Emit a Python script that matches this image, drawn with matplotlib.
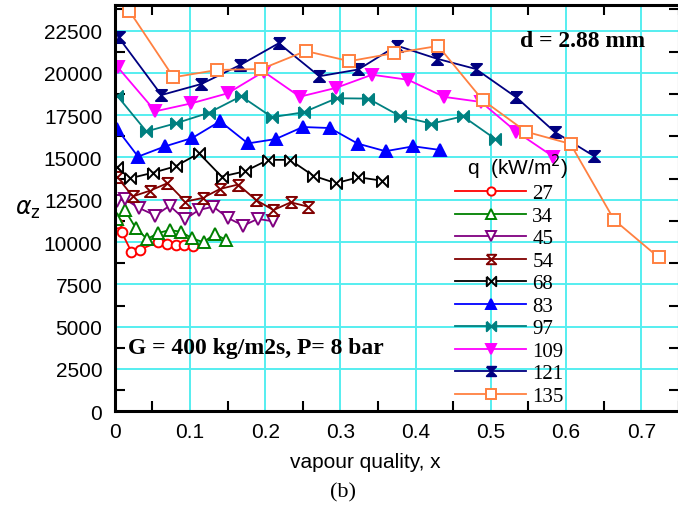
import matplotlib
matplotlib.use("Agg")
import matplotlib.pyplot as plt
import numpy as np
from matplotlib.ticker import MultipleLocator, NullFormatter

# heat flux q (kW/m2) -> (vapour quality, alpha_z)
x27 = [0.003, 0.009, 0.022, 0.033, 0.057, 0.069, 0.081, 0.092, 0.104]
y27 = [11130, 10600, 9430, 9550, 9990, 9890, 9830, 9830, 9790]

x34 = [0.003, 0.013, 0.028, 0.043, 0.058, 0.073, 0.088, 0.103, 0.118, 0.133, 0.148]
y34 = [11370, 11920, 10820, 10180, 10540, 10710, 10610, 10220, 9990, 10480, 10120]

x45 = [0.003, 0.014, 0.032, 0.054, 0.073, 0.093, 0.112, 0.131, 0.151, 0.171, 0.190, 0.210]
y45 = [12450, 12520, 12020, 11570, 12150, 11340, 11900, 12090, 11410, 10970, 11370, 11230]

x54 = [0.003, 0.024, 0.047, 0.070, 0.094, 0.117, 0.140, 0.164, 0.188, 0.211, 0.234, 0.257]
y54 = [13850, 12700, 13040, 13480, 12390, 12610, 13140, 13400, 12480, 11890, 12350, 12090]

x68 = [0.003, 0.020, 0.051, 0.081, 0.112, 0.142, 0.173, 0.204, 0.233, 0.264, 0.294, 0.324, 0.355]
y68 = [14420, 13770, 14100, 14480, 15250, 13870, 14180, 14860, 14860, 13920, 13480, 13830, 13630]

x83 = [0.003, 0.031, 0.067, 0.103, 0.140, 0.177, 0.214, 0.250, 0.286, 0.323, 0.360, 0.397, 0.433]
y83 = [16680, 15050, 15660, 16150, 17140, 15830, 16090, 16800, 16740, 15820, 15370, 15660, 15440]

x97 = [0.003, 0.042, 0.082, 0.125, 0.168, 0.209, 0.251, 0.295, 0.337, 0.379, 0.421, 0.463, 0.506]
y97 = [18660, 16540, 17030, 17640, 18620, 17380, 17670, 18500, 18480, 17450, 17000, 17430, 16090]

x109 = [0.004, 0.054, 0.102, 0.150, 0.198, 0.246, 0.294, 0.342, 0.390, 0.438, 0.487, 0.534, 0.583]
y109 = [20330, 17730, 18200, 18790, 20070, 18590, 19110, 19890, 19590, 18580, 18280, 16520, 15050]

x121 = [0.005, 0.062, 0.115, 0.167, 0.218, 0.272, 0.324, 0.375, 0.428, 0.480, 0.534, 0.585, 0.637]
y121 = [22100, 18690, 19340, 20470, 21750, 19800, 20200, 21610, 20840, 20230, 18550, 16510, 15090]

x135 = [0.019, 0.078, 0.136, 0.195, 0.254, 0.312, 0.371, 0.430, 0.489, 0.547, 0.606, 0.664, 0.723]
y135 = [23680, 19740, 20170, 20230, 21290, 20690, 21160, 21590, 18400, 16520, 15800, 11310, 9100]

labels = ["27", "34", "45", "54", "68", "83", "97", "109", "121", "135"]
xs = [x27, x34, x45, x54, x68, x83, x97, x109, x121, x135]
ys = [y27, y34, y45, y54, y68, y83, y97, y109, y121, y135]

colors = ["#ff0000", "#008000", "#800080", "#800000", "#000000",
          "#0000ff", "#008080", "#ff00ff", "#000080", "#ff8040"]

hourglass = [(-1, 1), (1, 1), (-1, -1), (1, -1), (-1, 1)]
bowtie = [(-1, 1), (-1, -1), (1, 1), (1, -1), (-1, 1)]
markers = ["o", "^", "v", hourglass, bowtie, "^", bowtie, "v", hourglass, "s"]
filled = [False, False, False, False, False, True, True, True, True, False]
msizes = [7, 8, 8, 8, 8, 9, 8, 9, 8, 9]

fig = plt.figure(figsize=(6.78, 5.06), dpi=100)
ax = fig.add_axes([0.1693, 0.1852, 0.8319, 0.8026])

for xv, yv, lab, c, m, f, ms in zip(xs, ys, labels, colors, markers, filled, msizes):
    ax.plot(xv, yv, color=c, lw=1.3, marker=m, ms=ms, mec=c,
            mfc=c if f else "white", mew=1.4, label=lab)

ax.set_xlim(0, 0.75)
ax.set_ylim(0, 24000)
ax.xaxis.set_minor_locator(MultipleLocator(0.05))
ax.yaxis.set_minor_locator(MultipleLocator(1250))
ax.xaxis.set_minor_formatter(NullFormatter())
ax.yaxis.set_minor_formatter(NullFormatter())
ax.set_xticks(np.arange(0, 0.71, 0.1))
ax.set_xticklabels(["0"] + [f"{v:.1f}" for v in np.arange(0.1, 0.71, 0.1)])
ax.set_yticks(np.arange(0, 22501, 2500))
ax.set_yticklabels([str(v) for v in range(0, 22501, 2500)])
ax.tick_params(which="major", length=0, labelsize=15, pad=8)
ax.tick_params(axis="y", which="major", pad=9)
ax.tick_params(which="minor", direction="in", length=7, width=1.5,
               top=True, right=True)
for lab in ax.get_xticklabels() + ax.get_yticklabels():
    lab.set_fontfamily("Liberation Sans")
ax.grid(True, which="major", color="#55eef0", lw=1.4)
ax.set_axisbelow(True)
for s in ax.spines.values():
    s.set_linewidth(2.2)

leg = ax.legend(loc="upper left", bbox_to_anchor=(0.585, 0.665),
                frameon=False, handlelength=3.4, handletextpad=0.3,
                labelspacing=0.14, borderpad=0, markerscale=0.85,
                prop={"family": "Liberation Serif", "size": 15},
                title="q  (kW/m$^2$)",
                title_fontproperties={"family": "Liberation Sans", "size": 15})
leg._legend_box.align = "left"
leg.get_title().set_position((12, 0))

ax.text(0.94, 0.912, "d = 2.88 mm", transform=ax.transAxes, ha="right",
        va="center", fontsize=17, fontweight="bold", family="Liberation Serif")
ax.text(0.024, 0.158, "G = 400 kg/m2s, P= 8 bar", transform=ax.transAxes,
        ha="left", va="center", fontsize=17, fontweight="bold",
        family="Liberation Serif")

fig.text(28 / 678, 1 - 210 / 506, r"$\alpha_{\mathrm{z}}$", fontsize=17,
         ha="center", va="center", family="Liberation Serif")
fig.text(365 / 678, 1 - 463 / 506, "vapour quality, x", fontsize=15,
         ha="center", va="center", family="Liberation Sans")
fig.text(343 / 678, 1 - 493 / 506, "(b)", fontsize=16,
         ha="center", va="center", family="Liberation Serif")

fig.savefig("out.png", dpi=100)
